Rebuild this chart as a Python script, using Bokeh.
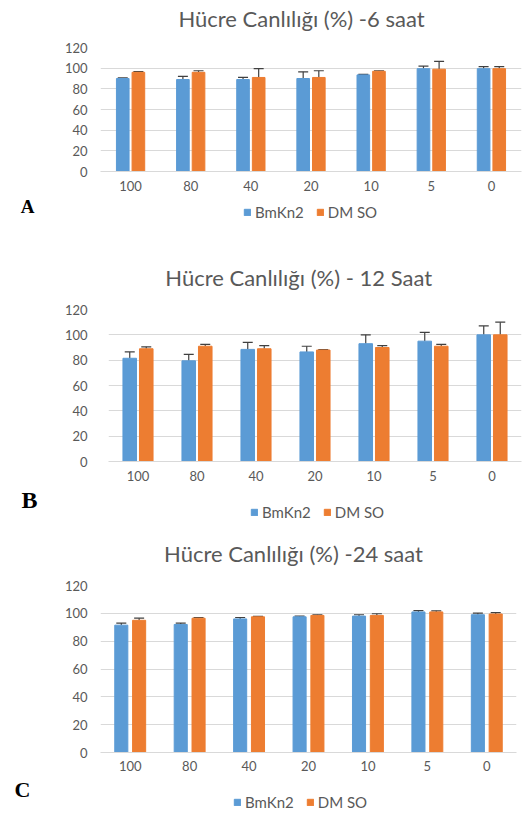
from bokeh.plotting import figure
from bokeh.models import (ColumnDataSource, Label, Legend, LegendItem, Whisker,
                          TeeHead, Range1d, FactorRange, FixedTicker)
from bokeh.transform import dodge
from bokeh.layouts import column
from bokeh.embed import file_html
from bokeh.resources import INLINE

categories = ["100", "80", "40", "20", "10", "5", "0"]
legend_labels = ["BmKn2", "DM SO"]
y_ticks = [0, 20, 40, 60, 80, 100, 120]

titles = ["Hücre Canlılığı (%) -6 saat",
          "Hücre  Canlılığı (%) - 12 Saat",
          "Hücre Canlılığı (%) -24 saat"]
panel_letters = ["A", "B", "C"]

# 6 h
bm_6 = [90, 89, 89, 90, 93.5, 99.5, 99.5]
bm_6_err = [0.6, 3, 2, 6.5, 0.5, 2.5, 2]
dmso_6 = [96, 96, 91, 91, 97, 99, 99.5]
dmso_6_err = [0.6, 1.5, 8.5, 6.5, 0.5, 7.5, 2]

# 12 h
bm_12 = [81.5, 79.5, 88.5, 86.5, 93, 95, 100]
bm_12_err = [5, 5, 5.5, 4.5, 7, 7, 7]
dmso_12 = [89, 91, 89, 88, 90, 91, 100]
dmso_12_err = [1.5, 1.5, 2.5, 0.3, 1.5, 1.5, 10]

# 24 h
bm_24 = [91.5, 92, 96, 97.5, 98, 101, 99]
bm_24_err = [1.5, 1, 1, 0.5, 1, 1, 1.2]
dmso_24 = [95, 96.5, 97.5, 98.5, 98.5, 101, 99.5]
dmso_24_err = [1.5, 0.5, 0.3, 0.4, 1.2, 0.8, 1]

BLUE = "#5B9BD5"
ORANGE = "#ED7D31"
GREY = "#595959"
GRID = "#D9D9D9"
W = 524
NAN = float("nan")

panels = [
    dict(bm=bm_6, bm_err=bm_6_err, dm=dmso_6, dm_err=dmso_6_err,
         title_h=35, title_xy=(301, 18),
         height=161, top=12, frame=124, left=100, right=3,
         xstand=9, ystand=13,
         strip_h=39, letter_xy=(27, 10), letter_size="19px",
         leg_xy=(243, 14), width=0.21, off=0.13),
    dict(bm=bm_12, bm_err=bm_12_err, dm=dmso_12, dm_err=dmso_12_err,
         title_h=60, title_xy=(301, 42),
         height=191, top=14, frame=152, left=108, right=3,
         xstand=9, ystand=21,
         strip_h=39, letter_xy=(29, 13), letter_size="24px",
         leg_xy=(250, 4), width=0.23, off=0.14),
    dict(bm=bm_24, bm_err=bm_24_err, dm=dmso_24, dm_err=dmso_24_err,
         title_h=45, title_xy=(293, 28),
         height=206, top=15, frame=167, left=100, right=8,
         xstand=8, ystand=13,
         strip_h=36, letter_xy=(22, 13), letter_size="22px",
         leg_xy=(233, 1), width=0.22, off=0.15),
]


def no_align(f):
    try:
        f.frame_align = False
    except Exception:
        pass
    return f


def blank(w, h):
    f = figure(width=w, height=h, x_range=Range1d(0, w), y_range=Range1d(h, 0),
               x_axis_location=None, y_axis_location=None, min_border=0,
               toolbar_location=None, output_backend="svg")
    f.outline_line_color = None
    f.grid.visible = False
    return no_align(f)


blocks = []
for i, pc in enumerate(panels):
    # title strip
    tf = blank(W, pc["title_h"])
    tf.add_layout(Label(x=pc["title_xy"][0], y=pc["title_xy"][1], text=titles[i],
                        text_font="Lato", text_font_size="22px", text_color=GREY,
                        text_align="center", text_baseline="middle"))

    # main chart
    bm_hi = [v + e for v, e in zip(pc["bm"], pc["bm_err"])]
    dm_hi = [v + e for v, e in zip(pc["dm"], pc["dm_err"])]
    src = ColumnDataSource(dict(cat=categories, bm=pc["bm"], dm=pc["dm"],
                                bm_hi=bm_hi, dm_hi=dm_hi))
    p = figure(x_range=FactorRange(*categories), y_range=Range1d(0, 120),
               width=W, height=pc["height"], output_backend="svg",
               toolbar_location=None, min_border_top=pc["top"],
               min_border_bottom=pc["height"] - pc["top"] - pc["frame"],
               min_border_left=pc["left"], min_border_right=pc["right"])
    no_align(p)
    p.outline_line_color = None
    p.x_range.range_padding = 0

    p.vbar(x=dodge("cat", -pc["off"], range=p.x_range), top="bm",
           width=pc["width"], source=src, color=BLUE)
    p.vbar(x=dodge("cat", pc["off"], range=p.x_range), top="dm",
           width=pc["width"], source=src, color=ORANGE)
    for col, hi, off in (("bm", "bm_hi", -pc["off"]), ("dm", "dm_hi", pc["off"])):
        w = Whisker(source=src, base=dodge("cat", off, range=p.x_range),
                    upper=hi, lower=col, line_color="#404040", line_width=1.2,
                    upper_head=TeeHead(size=10, line_color="#404040", line_width=1.2),
                    lower_head=None)
        p.add_layout(w)

    p.yaxis.ticker = FixedTicker(ticks=y_ticks)
    p.yaxis.axis_line_color = None
    p.yaxis.major_label_standoff = pc["ystand"]
    p.xaxis.axis_line_color = GRID
    p.xaxis.major_label_standoff = pc["xstand"]
    for ax in (p.xaxis, p.yaxis):
        ax.major_tick_line_color = None
        ax.minor_tick_line_color = None
        ax.major_tick_out = 0
        ax.major_tick_in = 0
        ax.minor_tick_out = 0
        ax.major_label_text_font = "Lato"
        ax.major_label_text_font_size = "13px"
        ax.major_label_text_color = GREY
    p.xgrid.grid_line_color = None
    p.ygrid.grid_line_color = GRID
    p.ygrid.grid_line_width = 1

    # bottom strip: panel letter + legend (legend keys are non-drawing proxies)
    bf = blank(W, pc["strip_h"])
    bf.add_layout(Label(x=pc["letter_xy"][0], y=pc["letter_xy"][1], text=panel_letters[i],
                        text_font="Liberation Serif", text_font_style="bold",
                        text_font_size=pc["letter_size"], text_color="black",
                        text_align="center", text_baseline="middle"))
    key_src = ColumnDataSource(dict(x=[NAN], top=[NAN]))
    k1 = bf.vbar(x="x", top="top", width=1, source=key_src, color=BLUE)
    k2 = bf.vbar(x="x", top="top", width=1, source=key_src, color=ORANGE)
    legend = Legend(items=[LegendItem(label=legend_labels[0], renderers=[k1], index=0),
                           LegendItem(label=legend_labels[1], renderers=[k2], index=0)],
                    orientation="horizontal", location=pc["leg_xy"],
                    glyph_width=8, glyph_height=8, label_height=12,
                    label_standoff=4, spacing=12, padding=0, margin=0,
                    label_text_font="Lato", label_text_font_size="15px",
                    label_text_color=GREY, border_line_color=None,
                    background_fill_alpha=0)
    bf.add_layout(legend)

    blocks.extend([tf, p, bf])

layout = column(*blocks, spacing=0)
open("out.html", "w").write(file_html(layout, INLINE))
